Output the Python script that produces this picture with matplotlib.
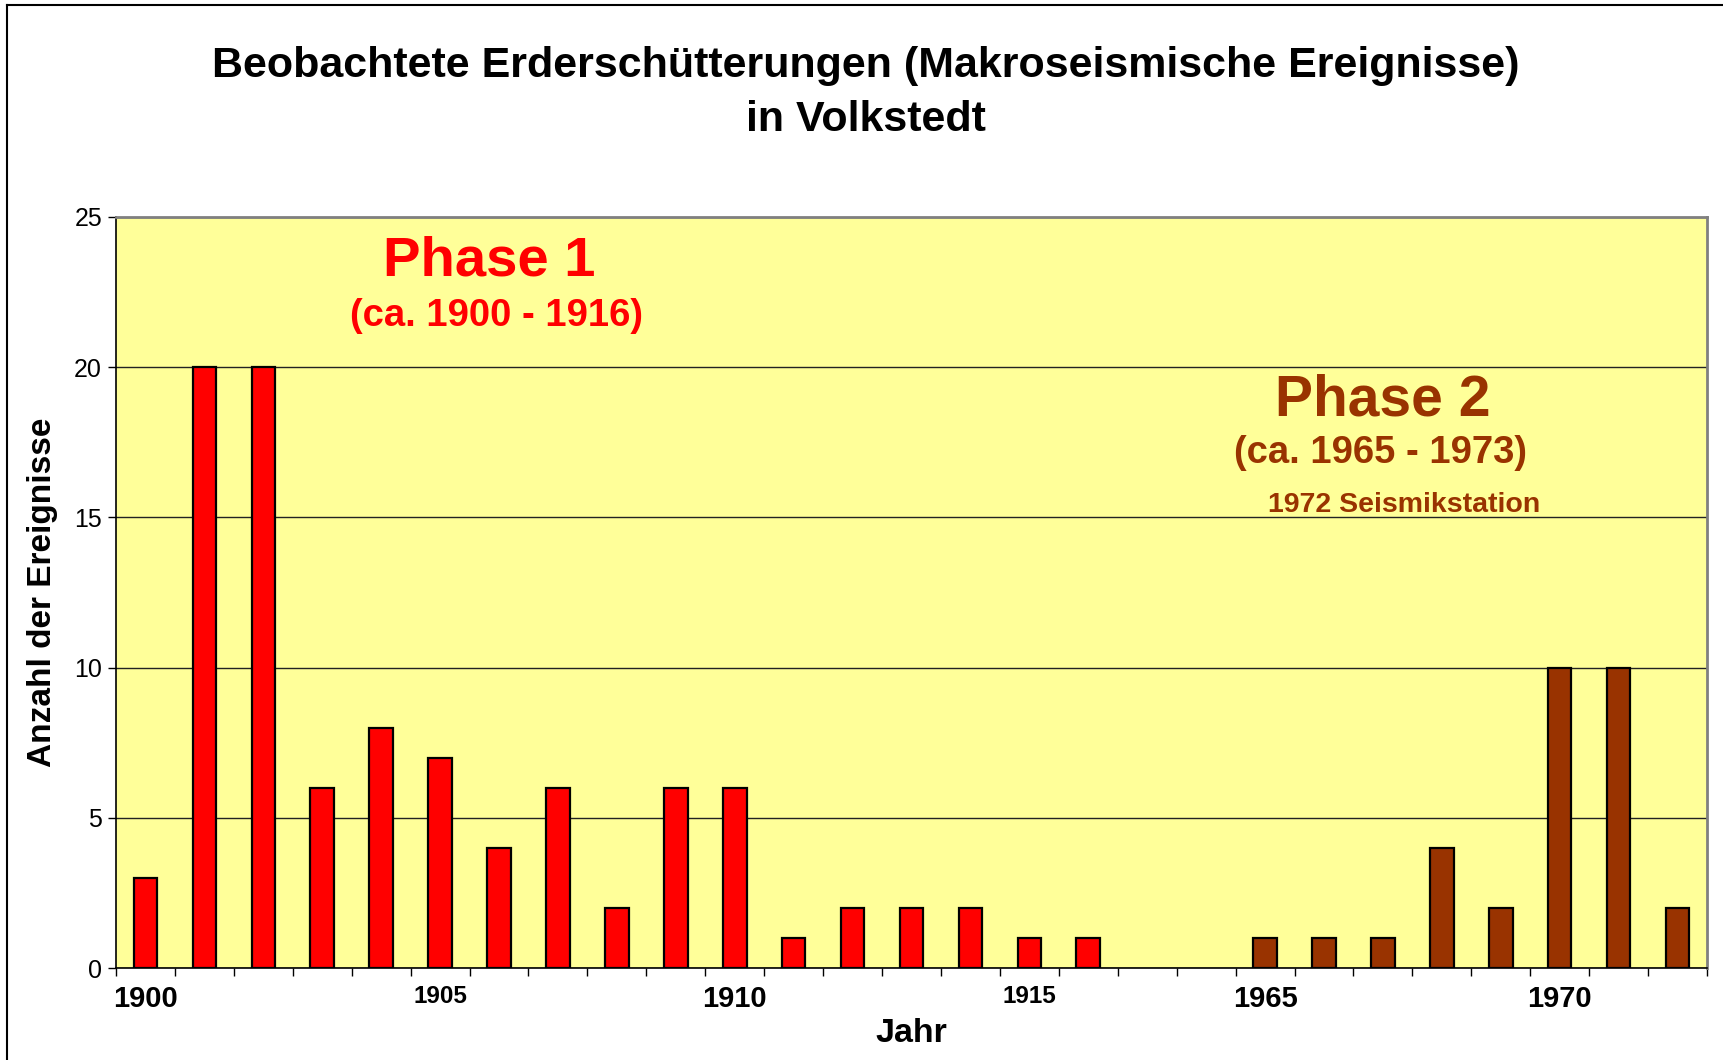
import matplotlib
matplotlib.use("Agg")
import matplotlib.pyplot as plt
from matplotlib.lines import Line2D

plt.rcParams['font.family'] = ['Liberation Sans', 'DejaVu Sans']

# ---- data ----
phase1_years = ["1900", "1901", "1902", "1903", "1904", "1905", "1906", "1907", "1908",
                "1909", "1910", "1911", "1912", "1913", "1914", "1915", "1916"]
phase1_counts = [3, 20, 20, 6, 8, 7, 4, 6, 2, 6, 6, 1, 2, 2, 2, 1, 1]
gap_categories = ["", ""]
phase2_years = ["1965", "1966", "1967", "1968", "1969", "1970", "1971", "1972"]
phase2_counts = [1, 1, 1, 4, 2, 10, 10, 2]
categories = phase1_years + gap_categories + phase2_years

big_labels = ["1900", "1910", "1965", "1970"]
small_labels = ["1905", "1915"]
y_ticks = [0, 5, 10, 15, 20, 25]

title = "Beobachtete Erderschütterungen (Makroseismische Ereignisse)\nin Volkstedt"
xlabel = "Jahr"
ylabel = "Anzahl der Ereignisse"
phase1_title = "Phase 1"
phase1_sub = "(ca. 1900 - 1916)"
phase2_title = "Phase 2"
phase2_sub = "(ca. 1965 - 1973)"
phase2_note = "1972 Seismikstation"

red = "#FF0000"
brown = "#993300"
bg = "#FFFF99"

# ---- figure ----
W, H = 1723, 1060
fig = plt.figure(figsize=(W / 100, H / 100), dpi=100)
fig.patch.set_facecolor("white")
ax = fig.add_axes([116 / W, 1 - 968 / H, (1707 - 116) / W, (968 - 217) / H])
ax.set_facecolor(bg)

x1 = [categories.index(y) for y in phase1_years]
x2 = [categories.index(y) for y in phase2_years]
ax.bar(x1, phase1_counts, width=0.4, color=red, edgecolor="black", linewidth=1.6, zorder=3)
ax.bar(x2, phase2_counts, width=0.4, color=brown, edgecolor="black", linewidth=1.6, zorder=3)

ax.set_xlim(-0.5, len(categories) - 0.5)
ax.set_ylim(0, 25)

# grid
ax.set_yticks(y_ticks)
ax.set_yticklabels([str(v) for v in y_ticks], fontsize=18)
ax.yaxis.grid(True, color="#222222", linewidth=1.0, zorder=1)
ax.set_axisbelow(True)
ax.tick_params(axis="y", direction="out", length=6, width=1, pad=4, colors="black")

# x ticks: boundaries as minor ticks with marks, labels at centers
ax.set_xticks([i - 0.5 for i in range(len(categories) + 1)], minor=True)
label_pos = [categories.index(y) for y in big_labels + small_labels]
ax.set_xticks(label_pos)
ax.set_xticklabels(big_labels + small_labels, fontweight="bold")
for lab in ax.get_xticklabels():
    lab.set_fontsize(21 if lab.get_text() in big_labels else 17.5)
ax.tick_params(axis="x", which="major", length=0, pad=12)
ax.tick_params(axis="x", which="minor", direction="out", length=6, width=1)

for s in ["top", "right"]:
    ax.spines[s].set_color("#808080")
    ax.spines[s].set_linewidth(2)
for s in ["left", "bottom"]:
    ax.spines[s].set_color("black")
    ax.spines[s].set_linewidth(1.2)

ax.set_xlabel(xlabel, fontsize=24.5, fontweight="bold", labelpad=4)
ax.set_ylabel(ylabel, fontsize=24, fontweight="bold", labelpad=12)

fig.text(866 / W, 1 - 93 / H, title, ha="center", va="center", fontsize=31,
         fontweight="bold", linespacing=1.42)

def ftxt(x, y, s, size, color):
    fig.text(x / W, 1 - y / H, s, ha="center", va="center", fontsize=size,
             fontweight="bold", color=color)

ftxt(489, 261, phase1_title, 40.5, red)
ftxt(497, 316, phase1_sub, 27.5, red)
ftxt(1383, 400, phase2_title, 41, brown)
ftxt(1381, 453, phase2_sub, 27.5, brown)
ftxt(1404, 505, phase2_note, 20.5, brown)

# figure border (top and left)
fig.add_artist(Line2D([7 / W, 7 / W], [0, 1 - 5 / H], transform=fig.transFigure,
                      color="black", linewidth=1.5))
fig.add_artist(Line2D([7 / W, 1], [1 - 5 / H, 1 - 5 / H], transform=fig.transFigure,
                      color="black", linewidth=1.5))

fig.savefig("out.png", dpi=100)
